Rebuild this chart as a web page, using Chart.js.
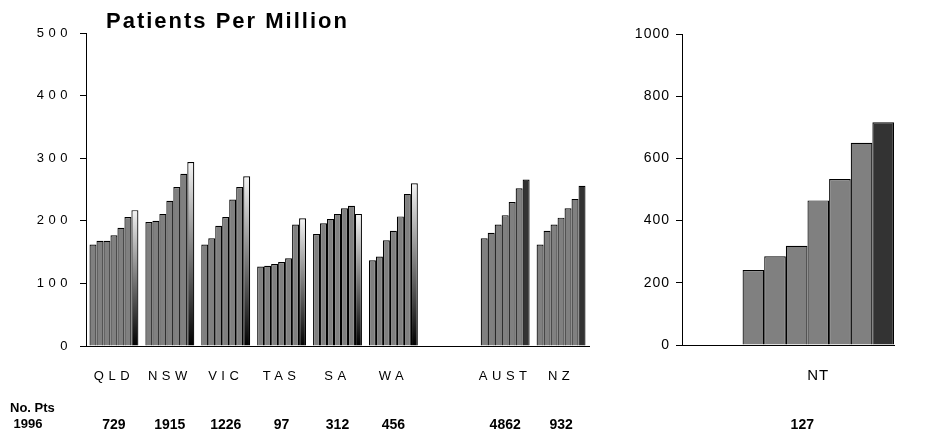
<!DOCTYPE html>
<html>
<head>
<meta charset="utf-8">
<script src="https://cdn.jsdelivr.net/npm/chart.js@4.4.1/dist/chart.umd.min.js"></script>
<style>
  body { margin: 0; background: #fff; }
  #wrap { position: relative; width: 940px; height: 437px; overflow: hidden;
          font-family: Arial, "Liberation Sans", sans-serif; color: #000; }
  canvas { position: absolute; top: 0; }
  #left { left: 0; }
  #right { left: 620px; }
  .note { position: absolute; font-weight: bold; line-height: 1; white-space: nowrap; }
  #title { left: 106px; top: 10px; font-size: 22px; letter-spacing: 2px; }
  #ptsHead { left: 10px; top: 400px; font-size: 13px; line-height: 16px; }
</style>
</head>
<body>
<div id="wrap">
  <canvas id="left" width="620" height="437"></canvas>
  <canvas id="right" width="320" height="437"></canvas>
  <div class="note" id="title">Patients Per Million</div>
  <div class="note" id="ptsHead">No. Pts<br>&nbsp;1996</div>
</div>
<script>
// years 1990..1996, one bar per year in each group
const years = ['1990', '1991', '1992', '1993', '1994', '1995', '1996'];

// left panel: states, a spacer slot, then national totals
const regions = ['QLD', 'NSW', 'VIC', 'TAS', 'SA', 'WA', '', 'AUST', 'NZ'];
const nationalTotals = ['AUST', 'NZ'];

const qld  = [162, 168, 168, 177, 189, 206, 217];
const nsw  = [198, 200, 211, 232, 254, 275, 294];
const vic  = [162, 172, 192, 206, 234, 254, 271];
const tas  = [127, 128, 131, 134, 140, 194, 204];
const sa   = [179, 196, 203, 211, 220, 224, 211];
const wa   = [137, 143, 169, 184, 207, 243, 260];
const aust = [172, 181, 194, 209, 230, 252, 266];
const nz   = [162, 184, 194, 205, 220, 235, 256];
const regionSeries = [qld, nsw, vic, tas, sa, wa, null, aust, nz];

// number of patients, 1996
const patients1996 = [729, 1915, 1226, 97, 312, 456, null, 4862, 932];

// right panel: NT on its own scale (spacer slots keep it right of the axis)
const ntLabels = ['', '', '', '', 'NT', '', ''];
const nt = [241, 285, 319, 465, 534, 650, 716];
const ntPatients1996 = 127;

const leftTicks = { min: 0, max: 500, step: 100 };
const rightTicks = { min: 0, max: 1000, step: 200 };

const FONT = 'Arial, "Liberation Sans", sans-serif';
const GREY = '#808080';
const DARK = '#333333';

// latest year in the states: black at the base fading to white at the top
function latestFill(c) {
  if (c.type !== 'data') return GREY;
  const label = c.chart.data.labels[c.dataIndex];
  if (nationalTotals.includes(label) || label === 'NT') return DARK;
  const y = c.chart.scales.y;
  if (!y || c.raw == null) return GREY;
  const base = y.getPixelForValue(0);
  const top = y.getPixelForValue(c.raw);
  if (!isFinite(base) || !isFinite(top)) return GREY;
  const g = c.chart.ctx.createLinearGradient(0, base, 0, top);
  g.addColorStop(0, '#000000');
  g.addColorStop(1, '#f4f4f4');
  return g;
}

const spacedText = {
  id: 'spacedText',
  beforeDraw(chart, args, opts) { chart.ctx.letterSpacing = opts.spacing || '0px'; },
  afterDraw(chart) { chart.ctx.letterSpacing = '0px'; }
};

// patient counts printed under each group
const countsRow = {
  id: 'countsRow',
  afterDraw(chart, args, opts) {
    const { ctx } = chart;
    const x = chart.scales.x;
    ctx.save();
    ctx.letterSpacing = '0px';
    ctx.font = 'bold 14px ' + FONT;
    ctx.fillStyle = '#000';
    ctx.textAlign = 'center';
    ctx.textBaseline = 'middle';
    opts.values.forEach((v, i) => {
      if (v != null) ctx.fillText(String(v), x.getPixelForValue(i) + (opts.shift || 0), opts.y);
    });
    ctx.restore();
  }
};

function yearDatasets(valuesFor) {
  return years.map((yr, k) => ({
    label: yr,
    data: valuesFor(k),
    backgroundColor: k === years.length - 1 ? latestFill : GREY,
    borderColor: '#000',
    borderWidth: 1.2
  }));
}

function axes(ticks, size, opts) {
  return {
    x: {
      grid: { display: false, drawTicks: false },
      border: { color: '#000', width: 1 },
      ticks: { color: '#000', font: { family: FONT, size: opts.xFont }, padding: opts.xPad,
               autoSkip: false, maxRotation: 0 },
      afterFit: s => { s.height = size.xHeight; }
    },
    y: {
      min: ticks.min, max: ticks.max,
      ticks: { stepSize: ticks.step, color: '#000', font: { family: FONT, size: opts.yFont },
               padding: opts.yPad, callback: v => String(v) },
      grid: { drawOnChartArea: false, drawTicks: true, tickLength: 6, color: '#000' },
      border: { color: '#000', width: 1 },
      afterFit: s => { s.width = size.yWidth; }
    }
  };
}

const leftChart = new Chart(document.getElementById('left'), {
  type: 'bar',
  data: {
    labels: regions,
    datasets: yearDatasets(k => regionSeries.map(s => (s ? s[k] : null)))
  },
  options: {
    responsive: false,
    animation: false,
    layout: { padding: { top: 33, right: 31, bottom: 0, left: 0 } },
    datasets: { bar: { categoryPercentage: 0.875, barPercentage: 1 } },
    plugins: {
      legend: { display: false },
      tooltip: { enabled: false },
      spacedText: { spacing: '4.5px' },
      countsRow: { values: patients1996, y: 425 }
    },
    scales: axes(leftTicks, { xHeight: 91, yWidth: 86 }, { xFont: 13, xPad: 23, yFont: 13, yPad: 8 })
  },
  plugins: [spacedText, countsRow]
});

const rightChart = new Chart(document.getElementById('right'), {
  type: 'bar',
  data: {
    labels: ntLabels,
    datasets: yearDatasets(k => ntLabels.map(l => (l === 'NT' ? nt[k] : null)))
  },
  options: {
    responsive: false,
    animation: false,
    layout: { padding: { top: 34, right: 46, bottom: 0, left: 0 } },
    datasets: { bar: { categoryPercentage: 5, barPercentage: 1 } },
    plugins: {
      legend: { display: false },
      tooltip: { enabled: false },
      spacedText: { spacing: '1px' },
      countsRow: { values: ntLabels.map(l => (l === 'NT' ? ntPatients1996 : null)), y: 425, shift: -16 }
    },
    scales: axes(rightTicks, { xHeight: 92, yWidth: 62 }, { xFont: 15, xPad: 22, yFont: 14, yPad: 6 })
  },
  plugins: [spacedText, countsRow]
});

// second pass so the gradients pick up the laid-out scales
leftChart.update();
rightChart.update();
</script>
</body>
</html>
